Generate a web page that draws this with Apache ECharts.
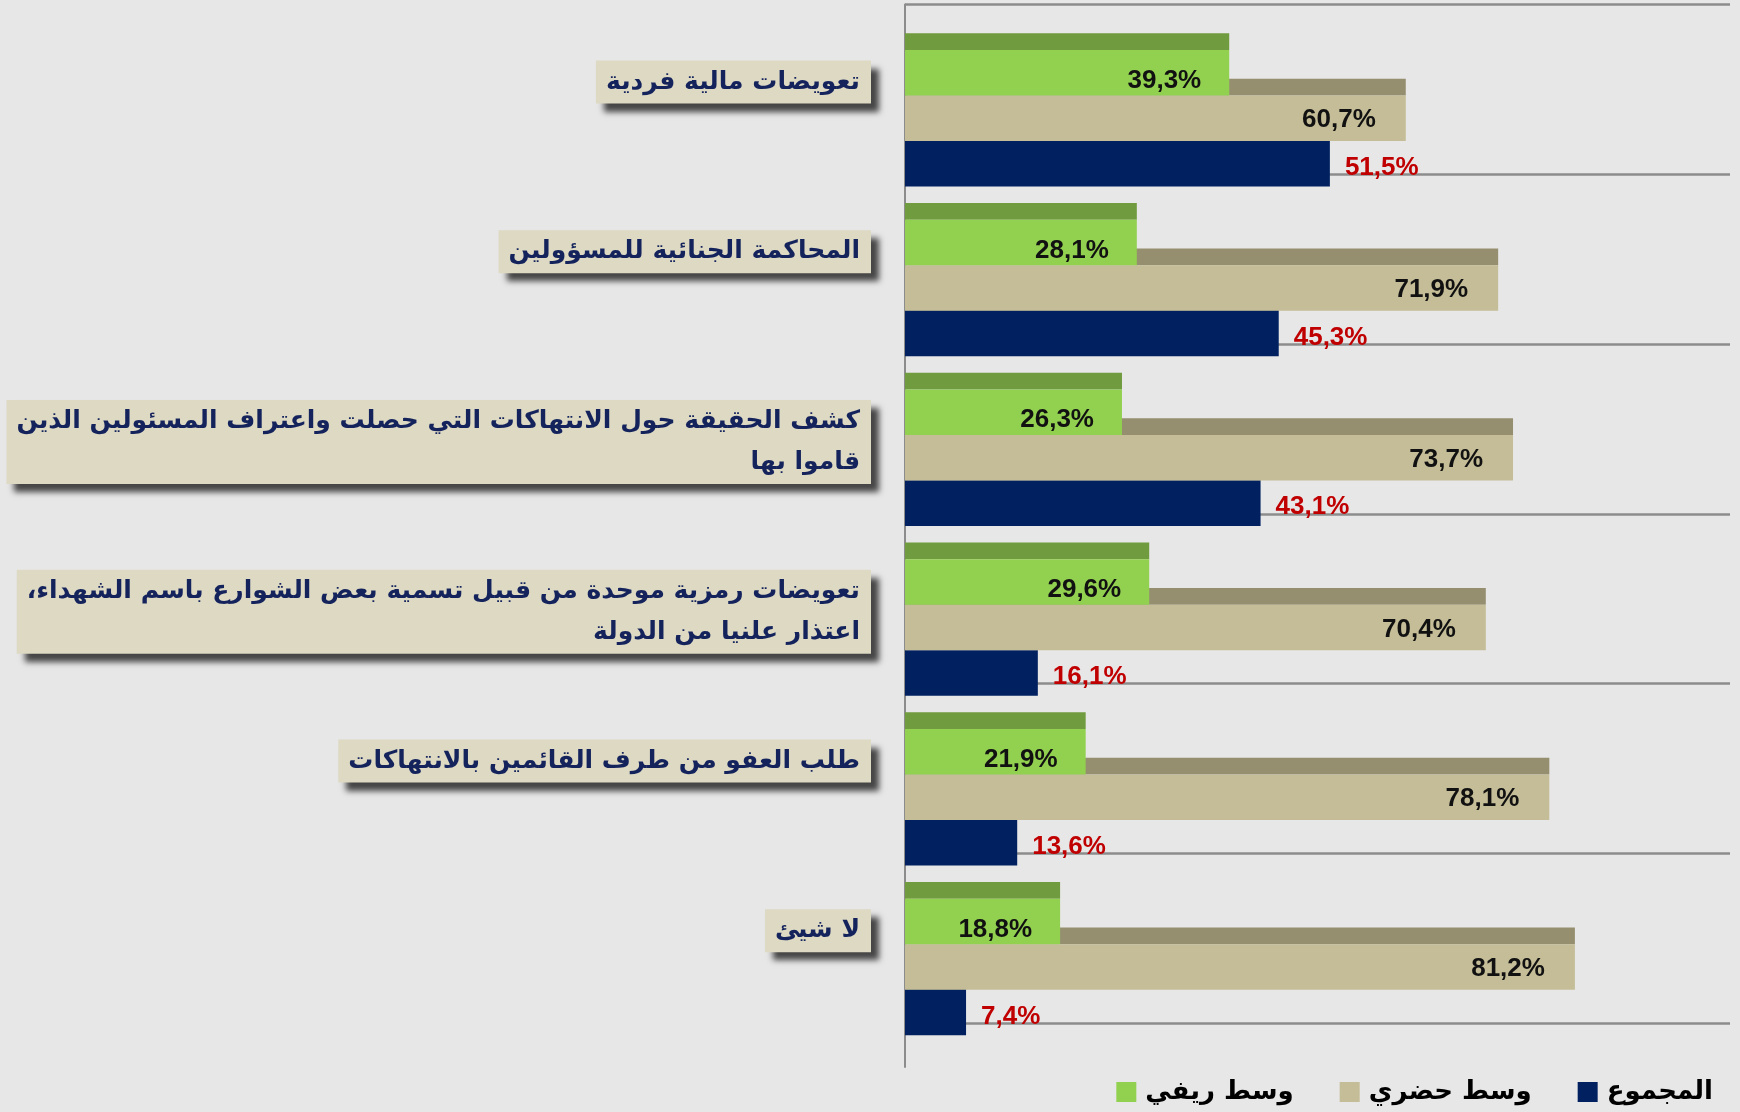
<!DOCTYPE html>
<html>
<head>
<meta charset="utf-8">
<title>chart</title>
<script src="https://cdn.jsdelivr.net/npm/echarts@6.0.0/dist/echarts.min.js"></script>
<style>
  html, body { margin: 0; padding: 0; background: #e7e7e7; }
  #main { width: 1740px; height: 1112px; }
</style>
</head>
<body>
<div id="main"></div>
<script>
var categories = [
    'تعويضات مالية فردية',
    'المحاكمة الجنائية للمسؤولين',
    'كشف الحقيقة حول الانتهاكات التي حصلت واعتراف المسئولين الذين\nقاموا بها',
    'تعويضات رمزية موحدة من قبيل تسمية بعض الشوارع باسم الشهداء،\nاعتذار علنيا من الدولة',
    'طلب العفو من طرف القائمين بالانتهاكات',
    'لا شيئ'
];
var seriesNames = ['وسط ريفي', 'وسط حضري', 'المجموع'];
var rural = [39.3, 28.1, 26.3, 29.6, 21.9, 18.8];
var urban = [60.7, 71.9, 73.7, 70.4, 78.1, 81.2];
var total = [51.5, 45.3, 43.1, 16.1, 13.6, 7.4];

var chart = echarts.init(document.getElementById('main'), null, {renderer: 'canvas'});

function pct(v) {
    return v.toFixed(1).replace('.', ',') + '%';
}

// bars drawn as a flat front face plus a darker strip on top (old excel 3d look)
function barRenderer(slot, front, top, lab) {
    return function (params, api) {
        var cat = api.value(0);
        var val = api.value(1);
        var p0 = api.coord([0, cat]);
        var p1 = api.coord([val, cat]);
        var band = api.size([0, 1])[1];
        var bandTop = p0[1] - band / 2;
        var h = band * 0.268;
        var depth = band * 0.098;
        var y0 = bandTop + h * (slot + 1);
        var w = p1[0] - p0[0];
        return {
            type: 'group',
            children: [
                {type: 'rect', shape: {x: p0[0], y: y0 - depth, width: w, height: depth}, style: {fill: top}},
                {type: 'rect', shape: {x: p0[0], y: y0, width: w, height: h}, style: {fill: front}},
                {
                    type: 'text',
                    style: {
                        text: pct(val),
                        x: p1[0] + lab.dx,
                        y: y0 + h / 2 + lab.dy,
                        align: lab.align,
                        verticalAlign: 'middle',
                        fill: lab.color,
                        font: 'bold 26px "Liberation Sans", Arial, sans-serif'
                    }
                }
            ]
        };
    };
}

function toData(arr) {
    return arr.map(function (v, i) { return [i, v]; });
}

var option = {
    backgroundColor: '#e7e7e7',
    animation: false,
    grid: [
        {left: 905, right: 10, top: 4.5, height: 1018.5},
        // labels sit on band "ticks" without boundary gap, so their tops line up
        {left: 905, right: 10, top: 60.5, height: 848.75},
        {left: 905, right: 10, top: 4.5, height: 1062.5}
    ],
    xAxis: [
        {gridIndex: 0, type: 'value', min: 0, max: 100, show: false},
        {gridIndex: 1, type: 'value', min: 0, max: 100, show: false},
        {gridIndex: 2, type: 'value', min: 0, max: 1, show: false}
    ],
    yAxis: [
        {
            gridIndex: 0, type: 'category', data: categories, inverse: true,
            axisLine: {show: false}, axisTick: {show: false}, axisLabel: {show: false},
            splitLine: {show: true, lineStyle: {color: '#8c8c8c', width: 2.5}}
        },
        {
            gridIndex: 1, type: 'category', data: categories, inverse: true, boundaryGap: false,
            axisLine: {show: false}, axisTick: {show: false}, splitLine: {show: false},
            axisLabel: {
                interval: 0,
                margin: 34,
                align: 'right',
                verticalAlign: 'top',
                color: '#14235c',
                fontFamily: 'DejaVu Sans',
                fontWeight: 'bold',
                fontSize: 25,
                lineHeight: 41,
                padding: [1, 11, 1, 10],
                backgroundColor: '#ddd9c3',
                shadowColor: 'rgba(0,0,0,0.7)',
                shadowBlur: 6,
                shadowOffsetX: 8,
                shadowOffsetY: 8,
                formatter: function (s) { return s.replace('،', '،\u200F'); }
            }
        },
        {
            gridIndex: 2, type: 'value', min: 0, max: 1,
            axisLine: {show: true, lineStyle: {color: '#8c8c8c', width: 2}},
            axisTick: {show: false}, axisLabel: {show: false}, splitLine: {show: false}
        }
    ],
    legend: {
        data: seriesNames,
        right: 22,
        top: 1074,
        icon: 'rect',
        itemWidth: 20,
        itemHeight: 20,
        itemGap: 46,
        textStyle: {color: '#000', fontSize: 26, fontWeight: 'bold', fontFamily: 'DejaVu Sans', padding: [0, 0, 0, 4]}
    },
    series: [
        {
            name: seriesNames[2], type: 'custom', xAxisIndex: 0, yAxisIndex: 0,
            itemStyle: {color: '#002060'},
            encode: {x: 1, y: 0},
            renderItem: barRenderer(2, '#002060', '#00174a', {dx: 15, dy: 4, align: 'left', color: '#c00000'}),
            data: toData(total)
        },
        {
            name: seriesNames[1], type: 'custom', xAxisIndex: 0, yAxisIndex: 0,
            itemStyle: {color: '#c4bd97'},
            encode: {x: 1, y: 0},
            renderItem: barRenderer(1, '#c4bd97', '#958f6f', {dx: -30, dy: 2, align: 'right', color: '#111'}),
            data: toData(urban)
        },
        {
            name: seriesNames[0], type: 'custom', xAxisIndex: 0, yAxisIndex: 0,
            itemStyle: {color: '#92d050'},
            encode: {x: 1, y: 0},
            renderItem: barRenderer(0, '#92d050', '#709b3e', {dx: -28, dy: 8, align: 'right', color: '#111'}),
            data: toData(rural)
        }
    ]
};

chart.setOption(option);
</script>
</body>
</html>
